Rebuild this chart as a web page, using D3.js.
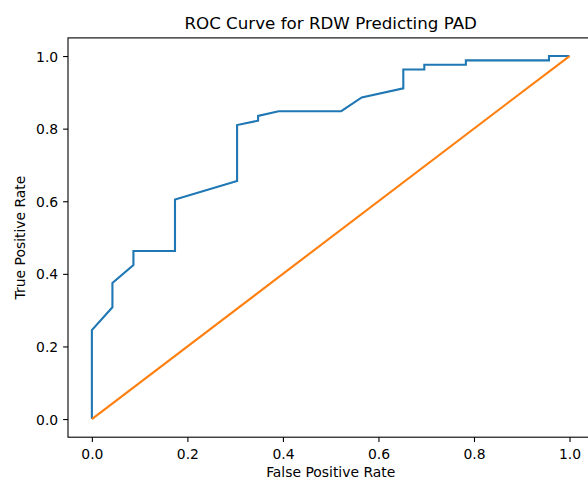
<!DOCTYPE html>
<html lang="en">
<head>
	<meta charset="UTF-8">
	<script src="https://d3js.org/d3.v7.min.js"></script>
	<title>ROC Curve</title>
</head>
<style>
	body { margin: 0; background: #fff; }
	svg { display: block; font-family: "DejaVu Sans", sans-serif; }
</style>
<body>
	<svg width="588" height="481"></svg>
</body>
<script>
	// ROC points
	var fpr = [0, 0, 0.043, 0.043, 0.087, 0.087, 0.174, 0.174, 0.304, 0.304, 0.348, 0.348, 0.391, 0.522, 0.565, 0.652, 0.652, 0.696, 0.696, 0.783, 0.783, 0.957, 0.957, 1.0];
	var tpr = [0, 0.245, 0.308, 0.375, 0.424, 0.463, 0.463, 0.605, 0.656, 0.81, 0.822, 0.835, 0.848, 0.848, 0.886, 0.911, 0.963, 0.963, 0.976, 0.976, 0.988, 0.988, 1.0, 1.0];
	var chanceX = [0, 1];
	var chanceY = [0, 1];
	var ticks = [0, 0.2, 0.4, 0.6, 0.8, 1.0];

	var svg = d3.select('svg');
	// plot box (right edge falls just outside the window, like the original)
	var plotL = 68, plotR = 593.4, plotT = 37.9, plotB = 437.2;

	var x = d3.scaleLinear().domain([-0.05, 1.05]).range([plotL, plotR]);
	var y = d3.scaleLinear().domain([-0.05, 1.05]).range([plotB, plotT]);

	var line = d3.line()
		.x(function(d){ return x(d[0]); })
		.y(function(d){ return y(d[1]); });

	svg.append('path')
		.datum(d3.zip(fpr, tpr))
		.attr('d', line)
		.attr('fill', 'none')
		.attr('stroke', '#1f77b4')
		.attr('stroke-width', 2.1)
		.attr('stroke-linejoin', 'miter');

	svg.append('path')
		.datum(d3.zip(chanceX, chanceY))
		.attr('d', line)
		.attr('fill', 'none')
		.attr('stroke', '#ff7f0e')
		.attr('stroke-width', 2.1);

	// frame
	svg.append('rect')
		.attr('x', plotL)
		.attr('y', plotT)
		.attr('width', plotR - plotL)
		.attr('height', plotB - plotT)
		.attr('fill', 'none')
		.attr('stroke', '#000')
		.attr('stroke-width', 1.1);

	var xAxis = d3.axisBottom(x).tickValues(ticks).tickFormat(d3.format('.1f')).tickSize(4.9).tickPadding(3.5);
	var yAxis = d3.axisLeft(y).tickValues(ticks).tickFormat(d3.format('.1f')).tickSize(4.9).tickPadding(4.9);

	var gx = svg.append('g').attr('transform', 'translate(0,' + plotB + ')').call(xAxis);
	var gy = svg.append('g').attr('transform', 'translate(' + plotL + ',0)').call(yAxis);

	[gx, gy].forEach(function(g){
		g.select('.domain').remove();
		g.selectAll('line').attr('stroke', '#000').attr('stroke-width', 1.1);
		g.selectAll('text')
			.attr('fill', '#000')
			.style('font-family', '"DejaVu Sans", sans-serif')
			.style('font-size', '13.9px');
	});
	gx.selectAll('text').attr('dy', null).attr('y', 21.8);
	gy.selectAll('text').attr('dy', '0.36em');

	svg.append('text')
		.attr('x', (plotL + plotR) / 2)
		.attr('y', 29)
		.attr('text-anchor', 'middle')
		.style('font-size', '16.7px')
		.text('ROC Curve for RDW Predicting PAD');

	svg.append('text')
		.attr('x', (plotL + plotR) / 2)
		.attr('y', 477)
		.attr('text-anchor', 'middle')
		.style('font-size', '13.9px')
		.text('False Positive Rate');

	svg.append('text')
		.attr('transform', 'translate(25,' + (plotT + plotB) / 2 + ') rotate(-90)')
		.attr('text-anchor', 'middle')
		.style('font-size', '13.9px')
		.text('True Positive Rate');
</script>
</html>
